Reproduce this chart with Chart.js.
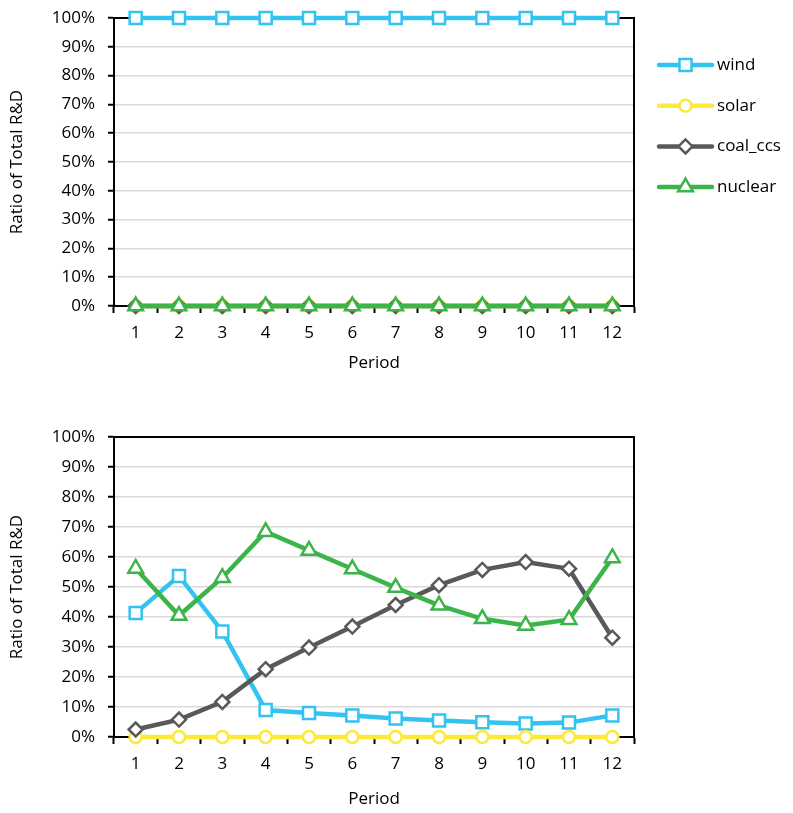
<!DOCTYPE html>
<html>
<head>
<meta charset="utf-8">
<script src="https://cdn.jsdelivr.net/npm/chart.js@4/dist/chart.umd.min.js"></script>
<style>
    html, body { margin: 0; padding: 0; background: #fff; }
    #wrap { position: relative; width: 793px; height: 813px; }
    canvas { position: absolute; left: 0; }
</style>
</head>
<body>
<div id="wrap">
    <canvas id="topChart" width="793" height="400" style="top:0"></canvas>
    <canvas id="bottomChart" width="793" height="407" style="top:406px"></canvas>
</div>
<script>
// categories
const periods = ['1', '2', '3', '4', '5', '6', '7', '8', '9', '10', '11', '12'];
const seriesNames = ['wind', 'solar', 'coal_ccs', 'nuclear'];

// top chart (percent)
const topWind    = [100, 100, 100, 100, 100, 100, 100, 100, 100, 100, 100, 100];
const topSolar   = [0, 0, 0, 0, 0, 0, 0, 0, 0, 0, 0, 0];
const topCoalCcs = [0, 0, 0, 0, 0, 0, 0, 0, 0, 0, 0, 0];
const topNuclear = [0, 0, 0, 0, 0, 0, 0, 0, 0, 0, 0, 0];

// bottom chart (percent)
const botWind    = [41.3, 53.7, 35.2, 9.0, 8.0, 7.2, 6.2, 5.5, 4.9, 4.5, 4.8, 7.2];
const botSolar   = [0, 0, 0, 0, 0, 0, 0, 0, 0, 0, 0, 0];
const botCoalCcs = [2.5, 5.8, 11.7, 22.6, 29.8, 36.8, 44.0, 50.6, 55.7, 58.3, 56.1, 33.1];
const botNuclear = [56.2, 40.5, 53.1, 68.4, 62.2, 56.0, 49.8, 43.9, 39.4, 37.2, 39.1, 59.7];

const FONT = { family: "'Open Sans', 'Liberation Sans', sans-serif", size: 17 };

// 系列样式
const styles = [
    { color: '#33C3F0', pointStyle: 'rect',     radius: 8.5, order: 4 },
    { color: '#FCE93A', pointStyle: 'circle',   radius: 6,   order: 3 },
    { color: '#595959', pointStyle: 'rectRot',  radius: 7,   order: 2 },
    { color: '#3CB44A', pointStyle: 'triangle', radius: 8.5, order: 1 }
];

function makeDatasets(values) {
    return values.map(function(data, i) {
        const s = styles[i];
        return {
            label: seriesNames[i],
            data: data,
            borderColor: s.color,
            backgroundColor: s.color,
            borderWidth: 4.5,
            pointStyle: s.pointStyle,
            pointRadius: s.radius,
            pointHoverRadius: s.radius,
            pointBackgroundColor: '#fff',
            pointBorderColor: s.color,
            pointBorderWidth: 2.5,
            tension: 0,
            order: s.order,
            clip: false
        };
    });
}

// 绘图区边框
const framePlugin = {
    id: 'frame',
    beforeDatasetsDraw(chart) {
        const a = chart.chartArea, ctx = chart.ctx;
        ctx.save();
        ctx.strokeStyle = '#000';
        ctx.lineWidth = 2;
        ctx.strokeRect(a.left, a.top, a.right - a.left, a.bottom - a.top);
        ctx.restore();
    }
};

// 右侧图例
const legendPlugin = {
    id: 'sideLegend',
    afterDraw(chart) {
        const ctx = chart.ctx;
        ctx.save();
        for (let i = 0; i < seriesNames.length; i++) {
            const s = styles[i];
            const y = 65 + i * 40.7;
            ctx.strokeStyle = s.color;
            ctx.lineWidth = 4.5;
            ctx.lineCap = 'round';
            ctx.beginPath();
            ctx.moveTo(659, y);
            ctx.lineTo(712, y);
            ctx.stroke();
            ctx.fillStyle = '#fff';
            ctx.lineWidth = 2.5;
            Chart.helpers.drawPoint(ctx, { pointStyle: s.pointStyle, radius: s.radius, rotation: 0, borderWidth: 2.5 }, 685.5, y);
            ctx.fillStyle = '#000';
            ctx.font = FONT.size + 'px ' + FONT.family;
            ctx.textBaseline = 'middle';
            ctx.textAlign = 'left';
            ctx.fillText(seriesNames[i], 717, y);
        }
        ctx.restore();
    }
};

function buildChart(id, values, geo, withLegend) {
    const ctx = document.getElementById(id).getContext('2d');
    return new Chart(ctx, {
        type: 'line',
        data: { labels: periods, datasets: makeDatasets(values) },
        options: {
            responsive: false,
            animation: false,
            layout: { padding: { top: geo.top, right: 159, bottom: 0, left: 0 } },
            plugins: { legend: { display: false }, tooltip: { enabled: false } },
            scales: {
                x: {
                    offset: true,
                    ticks: { color: '#000', font: FONT, padding: 10, maxRotation: 0, autoSkip: false },
                    grid: { offset: true, drawOnChartArea: false, tickColor: '#000', tickLength: 7, tickWidth: 2 },
                    border: { color: '#000', width: 2 },
                    title: { display: true, text: 'Period', color: '#000', font: FONT, padding: { top: 0, bottom: geo.titlePad } },
                    afterFit: function(s) { s.height = geo.xHeight; }
                },
                y: {
                    min: 0,
                    max: 100,
                    ticks: { stepSize: 10, color: '#000', font: FONT, padding: 13, callback: v => v + '%' },
                    grid: { color: '#d9d9d9', lineWidth: 1.5, tickColor: '#000', tickLength: 6, tickWidth: 2 },
                    border: { color: '#000', width: 2 },
                    title: { display: true, text: 'Ratio of Total R&D', color: '#000', font: FONT, padding: { top: 7, bottom: 0 } },
                    afterFit: function(s) { s.width = 114; s.paddingTop = 0; s.paddingBottom = 0; }
                }
            }
        },
        plugins: withLegend ? [framePlugin, legendPlugin] : [framePlugin]
    });
}

buildChart('topChart', [topWind, topSolar, topCoalCcs, topNuclear], { top: 18, xHeight: 94, titlePad: 27 }, true);
buildChart('bottomChart', [botWind, botSolar, botCoalCcs, botNuclear], { top: 31, xHeight: 76, titlePad: 4 }, false);
</script>
</body>
</html>
